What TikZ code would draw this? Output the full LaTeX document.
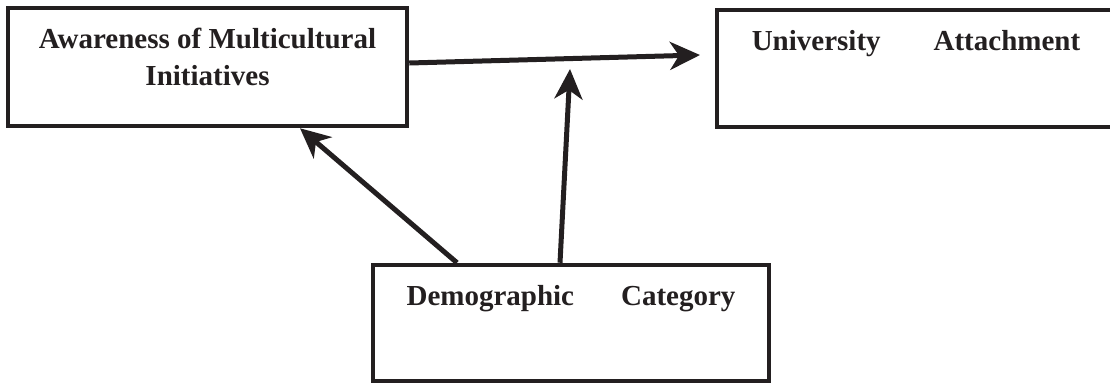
\documentclass[tikz,border=0pt]{standalone}
\usepackage{fontspec}
\setmainfont{Liberation Serif}
\usepackage{xcolor}
\usepackage{tikz}
\usetikzlibrary{arrows.meta}
\definecolor{ink}{HTML}{231F20}
\newcommand{\boxtext}[3]{\parbox[c][#2][t]{#1}{\centering\rule{0pt}{40pt}#3}}

\begin{document}
\begin{tikzpicture}[x=1pt, y=-1pt,
    varbox/.style={draw=ink, line width=4.5pt, rectangle, inner sep=0pt, text=ink, font=\bfseries\fontsize{29}{37}\selectfont},
    link/.style={draw=ink, line width=5pt, -{Stealth[length=30pt, width=28pt, inset=9pt]}}]
    \useasboundingbox (0,0) rectangle (1110,384);
    \node[varbox] (aware) at (207.5,67) {\boxtext{399pt}{118pt}{Awareness of Multicultural\\ Initiatives}};
    \node[varbox] (univ) at (916,68.5) {\boxtext{398pt}{117pt}{University\hspace{53pt}Attachment}};
    \node[varbox] (demo) at (571,323) {\boxtext{396pt}{116pt}{Demographic\hspace{47pt}Category}};
    \coordinate (univin) at (700,55);
    \coordinate (mid) at (570,69);
    \draw[link] ([yshift=4pt]aware.east) -- (univin);
    \draw[link] ([xshift=-11pt]demo.north) -- (mid);
    \draw[link] ([xshift=-114pt]demo.north) -- ([xshift=92.5pt]aware.south);
\end{tikzpicture}
\end{document}
